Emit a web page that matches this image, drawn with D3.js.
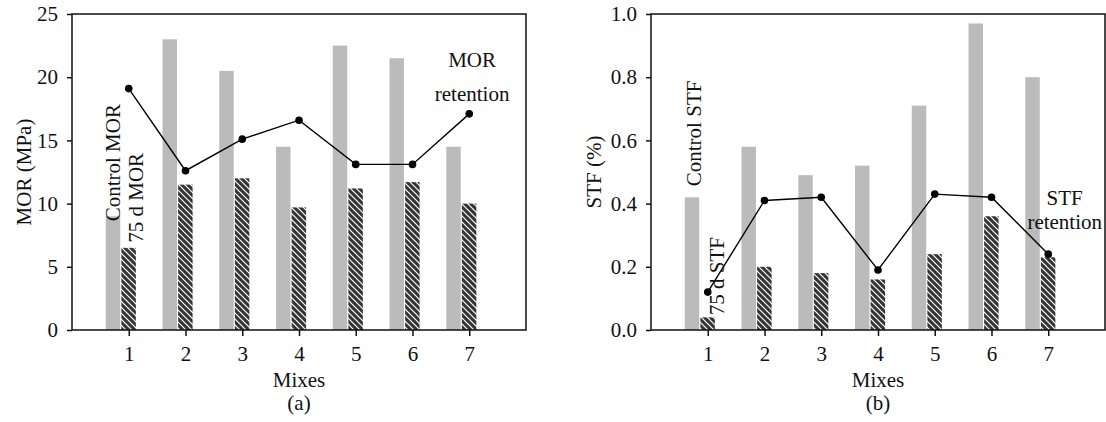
<!DOCTYPE html>
<html>
<head>
<meta charset="utf-8">
<script src="https://cdn.jsdelivr.net/npm/d3@7"></script>
<style>
  body { margin: 0; background: #fff; }
  svg { display: block; font-family: "Liberation Serif", "Times New Roman", serif; }
  .tick text { font-family: "Liberation Serif", "Times New Roman", serif; font-size: 21px; fill: #111; }
  .domain, .tick line { stroke: #111; stroke-width: 1.5; }
</style>
</head>
<body>
<div id="chart"></div>
<script>
// data
const mixes = [1, 2, 3, 4, 5, 6, 7];

const morControl = [9.0, 23.0, 20.5, 14.5, 22.5, 21.5, 14.5];
const mor75 = [6.5, 11.5, 12.0, 9.7, 11.2, 11.7, 10.0];
const morRetention = [19.1, 12.6, 15.1, 16.6, 13.1, 13.1, 17.1];

const stfControl = [0.42, 0.58, 0.49, 0.52, 0.71, 0.97, 0.80];
const stf75 = [0.04, 0.20, 0.18, 0.16, 0.24, 0.36, 0.23];
const stfRetention = [0.12, 0.41, 0.42, 0.19, 0.43, 0.42, 0.24];

const morTicks = [0, 5, 10, 15, 20, 25];
const stfTicks = [0, 0.2, 0.4, 0.6, 0.8, 1.0];

// svg
const width = 1106, height = 422;
const svg = d3.select("#chart").append("svg")
  .attr("width", width).attr("height", height);

// hatch for the 75 d bars
const defs = svg.append("defs");
const pat = defs.append("pattern")
  .attr("id", "hatch")
  .attr("patternUnits", "userSpaceOnUse")
  .attr("width", 6).attr("height", 6);
pat.append("rect").attr("width", 6).attr("height", 6).attr("fill", "#353535");
pat.append("path")
  .attr("d", "M-1,-1 L7,7 M-1,5 L1,7 M5,-1 L7,1")
  .attr("stroke", "#fff").attr("stroke-width", 1.2);

const drawPanel = (opt) => {
  const x = d3.scaleLinear().domain([0, 8]).range([opt.left, opt.right]);
  const y = d3.scaleLinear().domain(opt.yDomain).range([330, 14]);
  const unit = x(1) - x(0);
  const bw = unit * 0.255;

  const g = svg.append("g");

  // bars
  g.selectAll(".ctrl").data(mixes).enter().append("rect")
    .attr("x", (d) => x(d) - unit * 0.405)
    .attr("y", (d, i) => y(opt.control[i]))
    .attr("width", bw)
    .attr("height", (d, i) => y(0) - y(opt.control[i]))
    .attr("fill", "#bbbbbb");

  g.selectAll(".aged").data(mixes).enter().append("rect")
    .attr("x", (d) => x(d) - unit * 0.13)
    .attr("y", (d, i) => y(opt.aged[i]))
    .attr("width", bw)
    .attr("height", (d, i) => y(0) - y(opt.aged[i]))
    .attr("fill", "url(#hatch)");

  // retention line
  const line = d3.line().x((d) => x(d[0])).y((d) => y(d[1]));
  const pts = mixes.map((d, i) => [d, opt.retention[i]]);
  g.append("path").datum(pts)
    .attr("d", line).attr("fill", "none")
    .attr("stroke", "#000").attr("stroke-width", 1.4);
  g.selectAll(".dot").data(pts).enter().append("circle")
    .attr("cx", (d) => x(d[0])).attr("cy", (d) => y(d[1]))
    .attr("r", 3.8).attr("fill", "#000");

  // frame
  g.append("rect")
    .attr("x", x(0)).attr("y", y(opt.yDomain[1]))
    .attr("width", x(8) - x(0)).attr("height", y(0) - y(opt.yDomain[1]))
    .attr("fill", "none").attr("stroke", "#111").attr("stroke-width", 1.5);

  // axes
  g.append("g").attr("transform", `translate(0,${y(0)})`)
    .call(d3.axisBottom(x).tickValues(mixes).tickSize(6).tickPadding(10).tickSizeOuter(0))
    .call((s) => s.select(".domain").remove())
    .attr("font-family", null).attr("font-size", null);
  g.append("g").attr("transform", `translate(${x(0)},0)`)
    .call(d3.axisLeft(y).tickValues(opt.yTicks).tickFormat(opt.fmt).tickSize(5).tickPadding(9).tickSizeOuter(0))
    .call((s) => s.select(".domain").remove())
    .attr("font-family", null).attr("font-size", null);

  const text = (txt, tx, ty, rot, anchor) => g.append("text")
    .attr("transform", `translate(${tx},${ty})` + (rot ? " rotate(-90)" : ""))
    .attr("text-anchor", anchor || "middle")
    .attr("font-size", 21).attr("fill", "#111")
    .text(txt);

  const mid = (x(0) + x(8)) / 2;
  text("Mixes", mid, 387);
  text(opt.tag, mid, 410);
  text(opt.yTitle, opt.left - opt.titleOff, 172, true);

  opt.notes.forEach((n) => text(n.t, x(n.x), y(n.y), n.rot, n.rot ? "start" : "middle"));
};

drawPanel({
  left: 72, right: 526,
  yDomain: [0, 25], yTicks: morTicks, fmt: d3.format("d"),
  control: morControl, aged: mor75, retention: morRetention,
  yTitle: "MOR (MPa)", tag: "(a)", titleOff: 41,
  notes: [
    { t: "Control MOR", x: 0.84, y: 8.6, rot: true },
    { t: "75 d MOR", x: 1.245, y: 6.9, rot: true },
    { t: "MOR", x: 7.05, y: 20.8 },
    { t: "retention", x: 7.05, y: 18.1 }
  ]
});

drawPanel({
  left: 651, right: 1105,
  yDomain: [0, 1], yTicks: stfTicks, fmt: d3.format(".1f"),
  control: stfControl, aged: stf75, retention: stfRetention,
  yTitle: "STF (%)", tag: "(b)", titleOff: 50,
  notes: [
    { t: "Control STF", x: 0.882, y: 0.455, rot: true },
    { t: "75 d STF", x: 1.287, y: 0.047, rot: true },
    { t: "STF", x: 7.29, y: 0.396 },
    { t: "retention", x: 7.29, y: 0.32 }
  ]
});
</script>
</body>
</html>
